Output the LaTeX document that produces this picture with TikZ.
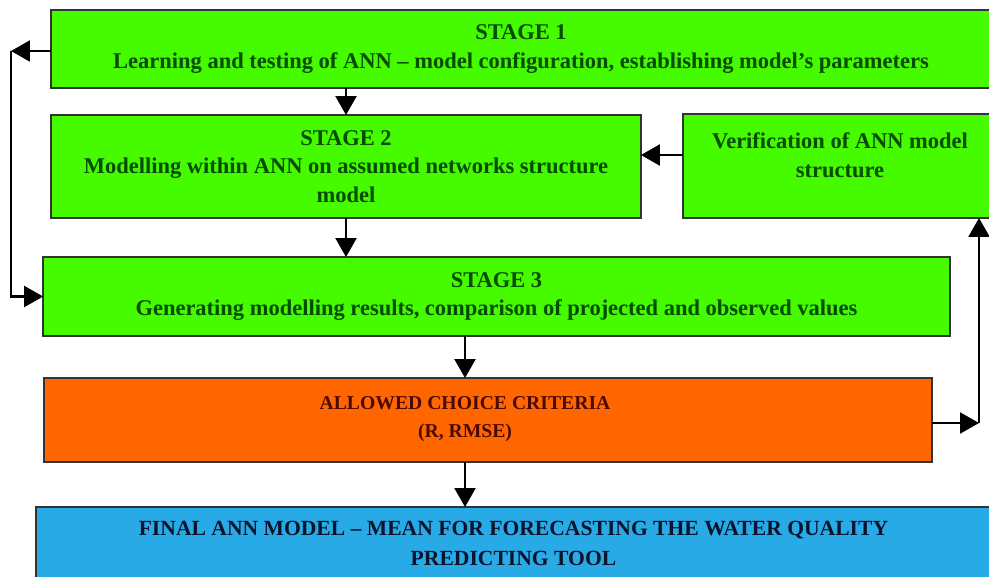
\documentclass[tikz,border=0pt]{standalone}
\usepackage{fontspec}
\setmainfont{Liberation Serif}
\usetikzlibrary{arrows.meta}
\definecolor{stagegreen}{RGB}{70,250,0}
\definecolor{textgreen}{RGB}{0,75,0}
\definecolor{critorange}{RGB}{255,102,0}
\definecolor{textbrown}{RGB}{75,10,0}
\definecolor{finalblue}{RGB}{40,170,230}
\definecolor{textnavy}{RGB}{10,20,45}

\begin{document}
\begin{tikzpicture}[x=0.02cm,y=-0.02cm,
    box/.style={draw=black!80, line width=1pt, inner sep=0pt, outer sep=0pt, align=center,
                font=\fontsize{12.8}{16.3}\selectfont\bfseries},
    stagebox/.style={box, fill=stagegreen, text=textgreen},
    arr/.style={line width=1.3pt, -{Triangle[length=0.38cm,width=0.42cm]}}]
    % Define canvas
    \useasboundingbox (0,0) rectangle (989,577);

    % Define boxes
    \node[stagebox, minimum width=18.8cm, minimum height=1.56cm] (st1) at (521,49)
        {STAGE 1\\Learning and testing of ANN -- model configuration, establishing model's parameters};
    \node[stagebox, minimum width=11.8cm, minimum height=2.06cm] (st2) at (346,166.5)
        {STAGE 2\\Modelling within ANN on assumed networks structure\\model};
    \node[stagebox, minimum width=6.16cm, minimum height=2.08cm] (verif) at (837,166) {};
    \node[box, draw=none, text=textgreen] (veriftxt) at (840,155)
        {Verification of ANN model\\structure};
    \node[stagebox, minimum width=18.14cm, minimum height=1.58cm] (st3) at (496.5,296.5)
        {STAGE 3\\Generating modelling results, comparison of projected and observed values};
    \node[box, fill=critorange, minimum width=17.76cm, minimum height=1.68cm] (crit) at (488,420) {};
    \node[box, draw=none, text=textbrown, font=\fontsize{11.2}{16.3}\selectfont\bfseries] (crittxt) at (465,419)
        {ALLOWED CHOICE CRITERIA\\(R, RMSE)};
    \node[box, fill=finalblue, text=textnavy, font=\fontsize{12.3}{16.8}\selectfont\bfseries,
          minimum width=19.1cm, minimum height=1.46cm] (final) at (513.5,543.5)
        {FINAL ANN MODEL -- MEAN FOR FORECASTING THE WATER QUALITY\\PREDICTING TOOL};

    % Define loop corners
    \coordinate (lc) at (11,51);
    \coordinate (rc) at (979,423);

    % Draw arrows
    \draw[arr] (st1.south -| st2.north) -- (st2.north);
    \draw[arr] (st2.south) -- (st3.north -| st2.south);
    \draw[arr] (st3.south -| crittxt) -- (crit.north -| crittxt);
    \draw[arr] (crit.south -| crittxt) -- (final.north -| crittxt);
    \draw[arr] (verif.west |- veriftxt) -- (st2.east |- veriftxt);
    \draw[arr] (st1.west |- lc) -- (lc);
    \draw[arr] (lc) |- (st3.west);
    \draw[arr] (crit.east |- rc) -- (rc);
    \draw[arr] (rc) -- (verif.south -| rc);
\end{tikzpicture}
\end{document}
